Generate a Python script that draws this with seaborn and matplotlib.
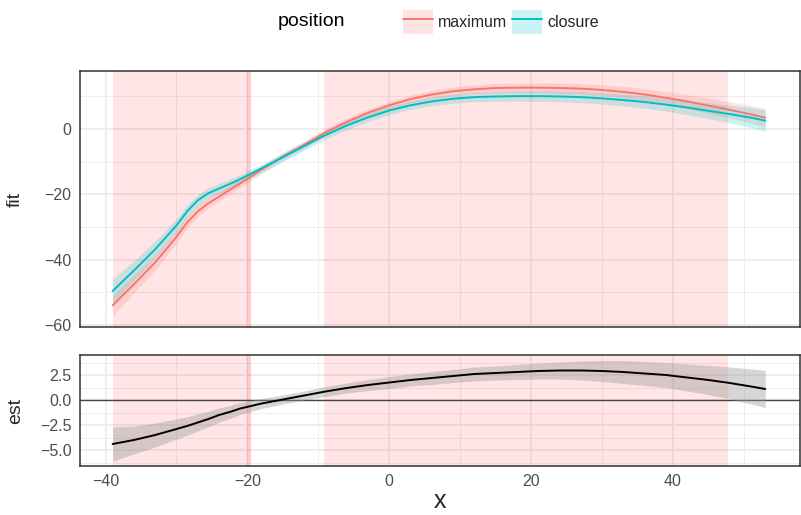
import matplotlib
matplotlib.use("Agg")
import matplotlib.pyplot as plt
import numpy as np
import pandas as pd
import seaborn as sns
from matplotlib.patches import Patch
from matplotlib.lines import Line2D
from matplotlib.legend_handler import HandlerTuple

# values
x_vals = [-39, -36, -33, -30, -28.5, -27, -25.5, -24, -22.5, -21, -18, -15, -12, -9,
          -6, -3, 0, 3, 6, 9, 12, 15, 18, 21, 24, 27, 30, 33, 36, 39, 42, 45, 48, 51, 53]

fit_maximum = [-54.0, -47.5, -40.8, -33.0, -28.6, -25.2, -22.7, -20.7, -18.6, -16.6,
               -12.4, -8.4, -4.8, -1.0, 2.2, 5.0, 7.3, 9.2, 10.6, 11.6, 12.2, 12.6,
               12.7, 12.7, 12.6, 12.4, 12.0, 11.4, 10.6, 9.6, 8.5, 7.2, 5.9, 4.5, 3.5]
se_maximum = [3.2, 2.7, 2.3, 1.9, 1.7, 1.6, 1.5, 1.4, 1.35, 1.3, 1.2, 1.2, 1.2, 1.2,
              1.2, 1.2, 1.2, 1.2, 1.2, 1.3, 1.3, 1.4, 1.4, 1.5, 1.5, 1.6, 1.6, 1.7,
              1.8, 1.9, 2.1, 2.3, 2.5, 2.7, 2.9]

fit_closure = [-49.6, -43.3, -36.8, -29.5, -25.2, -21.8, -19.6, -18.2, -16.8, -15.3,
               -12.0, -8.6, -5.2, -1.8, 1.1, 3.6, 5.7, 7.3, 8.5, 9.3, 9.8, 10.0, 10.1,
               10.1, 10.0, 9.8, 9.4, 8.9, 8.3, 7.5, 6.6, 5.6, 4.6, 3.5, 2.6]
se_closure = [3.6, 3.0, 2.5, 2.1, 1.9, 1.8, 1.65, 1.5, 1.45, 1.4, 1.3, 1.3, 1.3, 1.3,
              1.3, 1.3, 1.3, 1.3, 1.3, 1.4, 1.4, 1.5, 1.5, 1.6, 1.6, 1.7, 1.7, 1.8,
              1.9, 2.0, 2.2, 2.4, 2.7, 3.0, 3.3]

est = [-4.4, -4.0, -3.5, -2.9, -2.6, -2.25, -1.9, -1.5, -1.2, -0.85, -0.35, 0.05,
       0.45, 0.85, 1.2, 1.5, 1.75, 2.0, 2.2, 2.4, 2.6, 2.7, 2.8, 2.9, 2.95, 2.95,
       2.9, 2.8, 2.65, 2.5, 2.25, 2.0, 1.7, 1.35, 1.1]
se_est = [1.7, 1.4, 1.2, 1.0, 0.92, 0.85, 0.78, 0.7, 0.65, 0.6, 0.5, 0.45, 0.45, 0.5,
          0.5, 0.55, 0.6, 0.6, 0.65, 0.65, 0.7, 0.7, 0.75, 0.8, 0.85, 0.95, 1.05,
          1.15, 1.2, 1.25, 1.35, 1.45, 1.6, 1.75, 1.85]

region_start = [-39, -20, -9.2]
region_end = [-19.5, -19.5, 47.8]

positions = ["maximum", "closure"]
colors = {"maximum": "#F8766D", "closure": "#00BFC4"}

df = pd.concat([
    pd.DataFrame({"x": x_vals, "fit": fit_maximum, "se": se_maximum, "position": "maximum"}),
    pd.DataFrame({"x": x_vals, "fit": fit_closure, "se": se_closure, "position": "closure"}),
])
df["lo"] = df["fit"] - df["se"]
df["hi"] = df["fit"] + df["se"]
df_est = pd.DataFrame({"x": x_vals, "est": est, "lo": np.array(est) - np.array(se_est),
                       "hi": np.array(est) + np.array(se_est)})

sns.set_theme(style="white")
plt.rcParams["font.family"] = ["Liberation Sans", "DejaVu Sans"]

fig = plt.figure(figsize=(8.01, 5.15), dpi=100)
ax1 = fig.add_axes([80 / 801, 1 - 327 / 515, 720 / 801, 256 / 515])
ax2 = fig.add_axes([80 / 801, 1 - 466 / 515, 720 / 801, 111 / 515])

for ax in (ax1, ax2):
    for s, e in zip(region_start, region_end):
        ax.axvspan(s, e, color="red", alpha=0.1, lw=0, zorder=1)

for pos in positions:
    d = df[df["position"] == pos]
    ax1.fill_between(d["x"], d["lo"], d["hi"], color=colors[pos], alpha=0.2, lw=0, zorder=2)
sns.lineplot(data=df, x="x", y="fit", hue="position", palette=colors, ax=ax1,
             legend=False, lw=1.4, zorder=3)

ax2.axhline(0, color="#444444", lw=1.0, zorder=2)
ax2.fill_between(df_est["x"], df_est["lo"], df_est["hi"], color="#999999", alpha=0.4,
                 lw=0, zorder=2)
sns.lineplot(data=df_est, x="x", y="est", color="black", ax=ax2, lw=1.4, zorder=3)

xlim = (-43.6, 57.9)
for ax in (ax1, ax2):
    ax.set_xlim(*xlim)
    ax.set_xticks([-40, -20, 0, 20, 40])
    ax.set_xticks([-30, -10, 10, 30, 50], minor=True)
    ax.grid(which="major", color="#EBEBEB", lw=1.2)
    ax.grid(which="minor", color="#EBEBEB", lw=0.6)
    ax.set_axisbelow(True)
    for sp in ax.spines.values():
        sp.set_color("#333333")
        sp.set_linewidth(1.1)
    ax.tick_params(which="major", direction="out", length=4, width=0.9, color="#333333",
                   labelsize=11.5, labelcolor="#4D4D4D", pad=2)
    ax.tick_params(which="minor", length=0)

ax1.set_ylim(-60.6, 17.8)
ax1.set_yticks([-60, -40, -20, 0])
ax1.set_yticks([-50, -30, -10, 10], minor=True)
ax1.set_yticklabels(["\u221260", "\u221240", "\u221220", "0"])
ax1.tick_params(axis="x", which="both", length=0, labelbottom=False)
ax1.set_xlabel("")
ax1.set_ylabel("fit", fontsize=14)
ax1.yaxis.set_label_coords(-0.078, 0.5)

ax2.set_ylim(-6.6, 4.5)
ax2.set_yticks([-5.0, -2.5, 0.0, 2.5])
ax2.set_yticks([-6.25, -3.75, -1.25, 1.25, 3.75], minor=True)
ax2.set_yticklabels(["\u22125.0", "\u22122.5", "0.0", "2.5"])
ax2.set_xticklabels(["\u221240", "\u221220", "0", "20", "40"])
ax2.set_ylabel("est", fontsize=14)
ax2.yaxis.set_label_coords(-0.078, 0.5)
ax2.set_xlabel("x", fontsize=18, labelpad=0)

handles = [(Patch(facecolor=colors[p], alpha=0.2, lw=0), Line2D([], [], color=colors[p], lw=1.4))
           for p in positions]
fig.legend(handles, positions, handler_map={tuple: HandlerTuple(ndivide=1, pad=0)},
           loc="center", bbox_to_anchor=(501 / 801, 1 - 22 / 515), ncol=2, frameon=False,
           fontsize=11.5, handlelength=1.9, handleheight=1.9, handletextpad=0.3,
           columnspacing=0.3, borderpad=0)
fig.text(311 / 801, 1 - 22 / 515, "position", fontsize=14, ha="center", va="center",
         color="black")

fig.savefig("out.png", dpi=100)
